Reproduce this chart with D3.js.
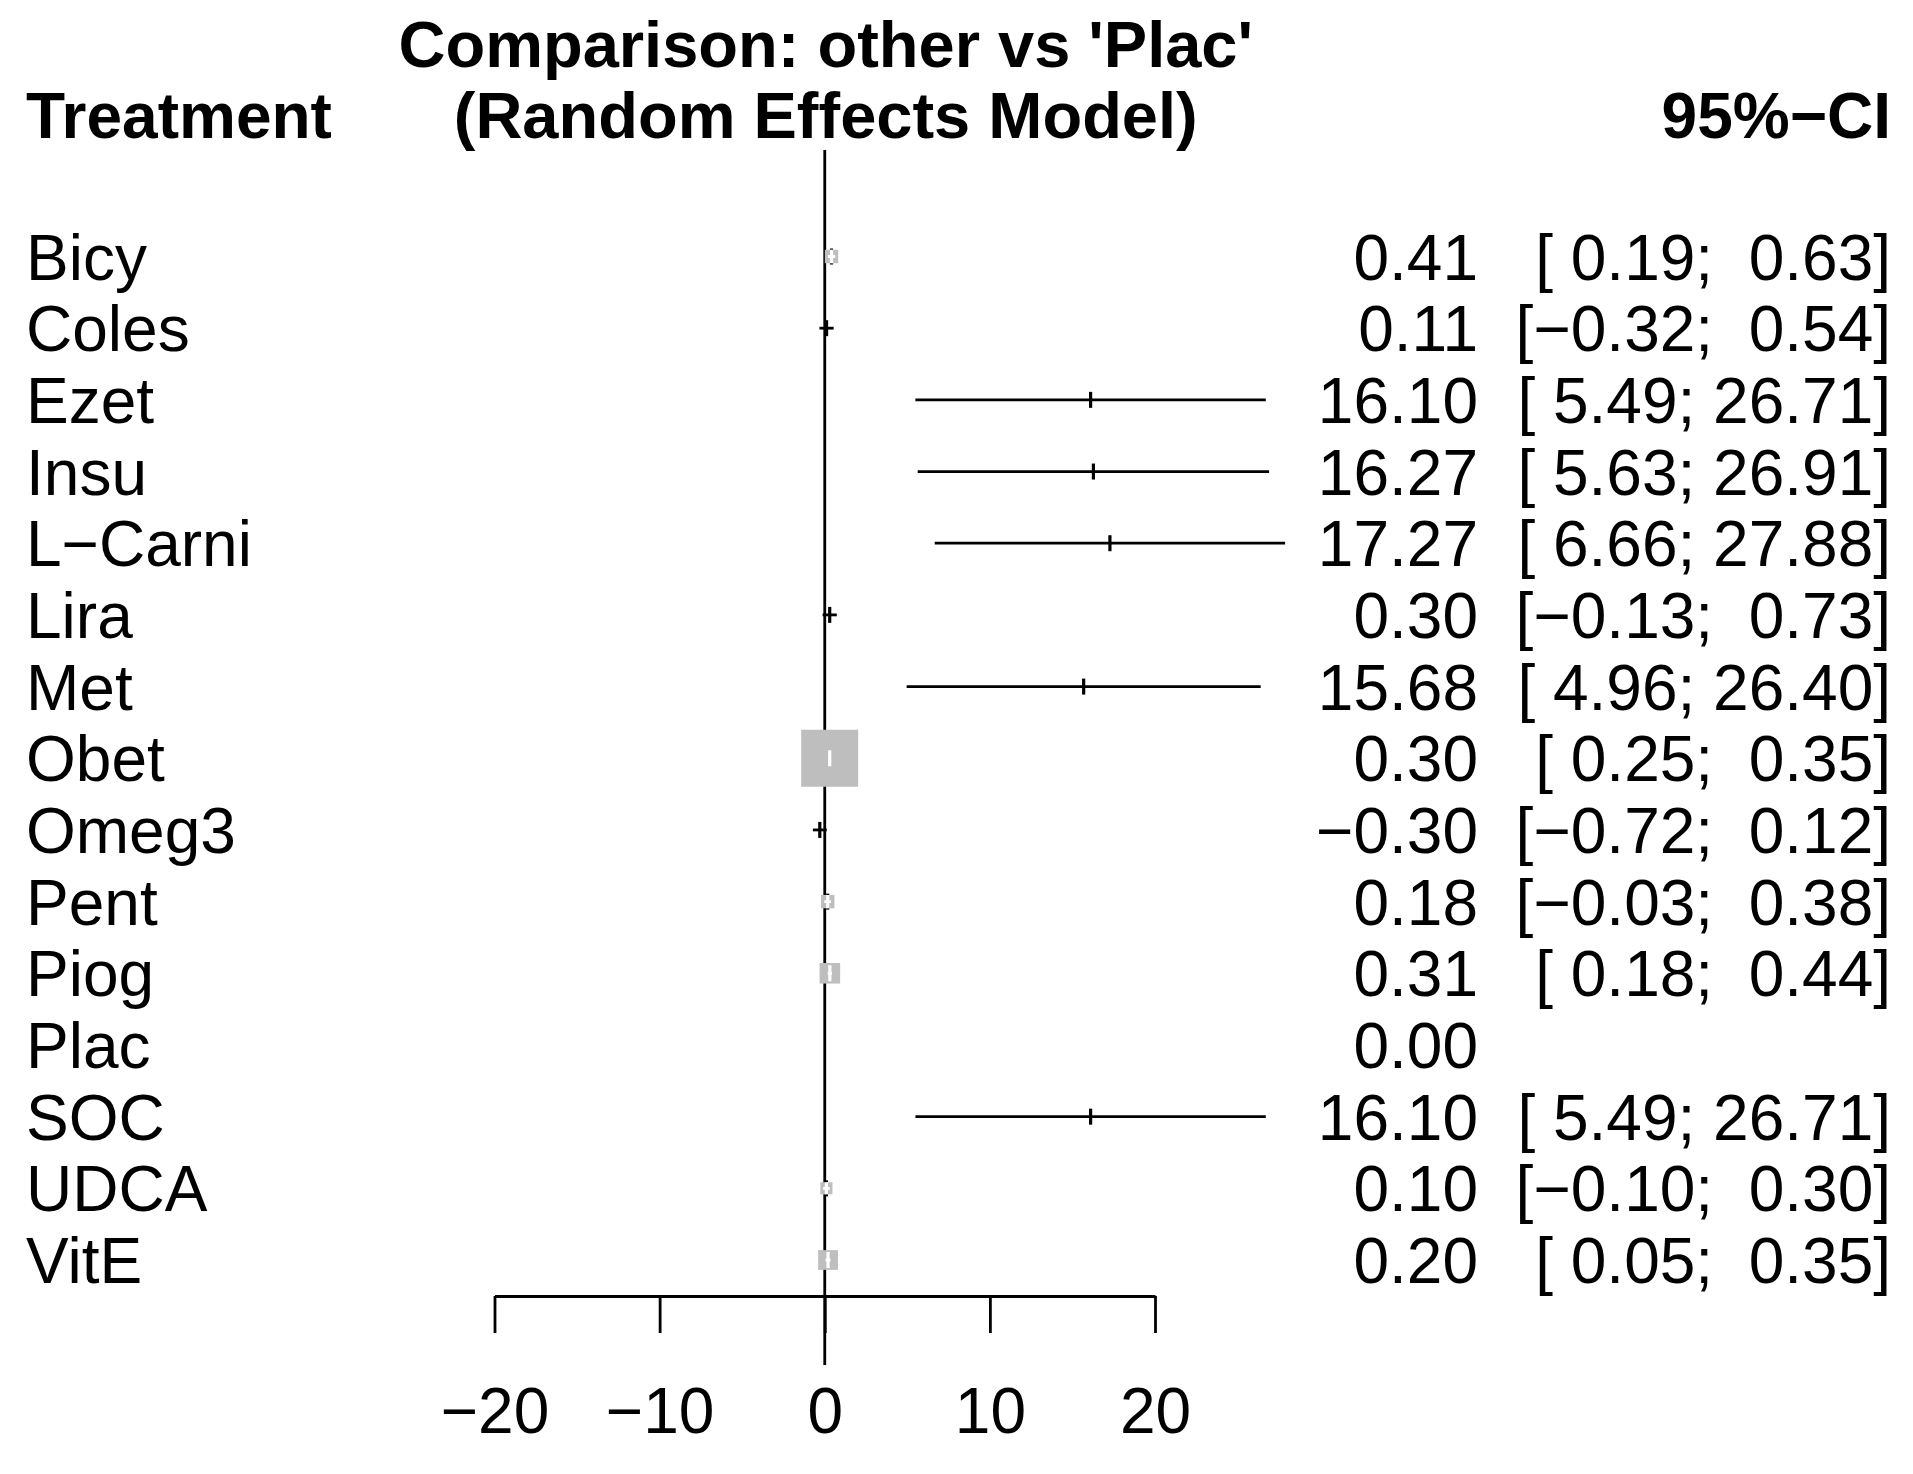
<!DOCTYPE html>
<html>
<head>
<meta charset="utf-8">
<script src="https://cdn.jsdelivr.net/npm/d3@7"></script>
<style>
  body { margin: 0; background: #fff; }
  text { font-family: "Liberation Sans", Arial, Helvetica, sans-serif; fill: #000; }
</style>
</head>
<body>
<svg id="forest"></svg>
<script>
// values
const treatments = ["Bicy", "Coles", "Ezet", "Insu", "L\u2212Carni", "Lira", "Met", "Obet",
                    "Omeg3", "Pent", "Piog", "Plac", "SOC", "UDCA", "VitE"];
const estimates = [0.41, 0.11, 16.10, 16.27, 17.27, 0.30, 15.68, 0.30, -0.30, 0.18, 0.31, 0.00, 16.10, 0.10, 0.20];
const lower     = [0.19, -0.32, 5.49, 5.63, 6.66, -0.13, 4.96, 0.25, -0.72, -0.03, 0.18, null, 5.49, -0.10, 0.05];
const upper     = [0.63, 0.54, 26.71, 26.91, 27.88, 0.73, 26.40, 0.35, 0.12, 0.38, 0.44, null, 26.71, 0.30, 0.35];
// relative weight (square area), estimated
const weights   = [5.5, 1.2, 0.002, 0.002, 0.002, 1.2, 0.002, 100, 1.2, 5.5, 13, 0, 0.002, 4.5, 12];
const xTicks = [-20, -10, 0, 10, 20];

const titleLines = ["Comparison: other vs 'Plac'", "(Random Effects Model)"];

const width = 1913, height = 1474;
const fontSize = 64;

const data = treatments.map((t, i) => ({
  label: t, value: estimates[i], lci: lower[i], uci: upper[i], w: weights[i], i
}));

const svg = d3.select("#forest")
  .attr("width", width)
  .attr("height", height)
  .style("display", "block");

const xScale = d3.scaleLinear().domain([-20, 20]).range([494.5, 1155]);
const yScale = d3.scalePoint()
  .domain(data.map(d => d.label))
  .range([256.5, 1260]);
const sizeScale = d3.scaleSqrt().domain([0, d3.max(weights)]).range([0, 57]);

const fmt = d3.format(".2f");
const minus = s => s.replace("-", "\u2212");
const pad = v => { const s = minus(fmt(v)); return s.length < 5 ? " ".repeat(5 - s.length) + s : s; };

const axisY = 1296;
const tickLen = 37;
const lw = 2.8;

// headings
svg.append("text")
  .attr("x", 26).attr("y", 138)
  .style("font-size", fontSize + "px").style("font-weight", "bold")
  .text("Treatment");

svg.selectAll(".title")
  .data(titleLines)
  .enter()
  .append("text")
  .attr("class", "title")
  .attr("x", xScale(0) + 1)
  .attr("y", (d, i) => 67 + i * 71)
  .attr("text-anchor", "middle")
  .style("font-size", "65px").style("font-weight", "bold")
  .text(d => d);

svg.append("text")
  .attr("x", 1891).attr("y", 138)
  .attr("text-anchor", "end")
  .style("font-size", fontSize + "px").style("font-weight", "bold")
  .text("95%\u2212CI");

// reference line at 0
svg.append("line")
  .attr("x1", xScale(0)).attr("x2", xScale(0))
  .attr("y1", 150).attr("y2", 1365)
  .attr("stroke", "#000")
  .attr("stroke-width", lw);

// x axis
const axis = svg.append("g")
  .attr("transform", `translate(0,${axisY})`)
  .call(d3.axisBottom(xScale).tickValues(xTicks).tickSize(tickLen).tickSizeOuter(0)
    .tickFormat(d => minus(String(d))));
axis.select(".domain").attr("stroke", "#000").attr("stroke-width", lw);
axis.selectAll(".tick line").attr("stroke", "#000").attr("stroke-width", lw);
axis.selectAll(".tick text")
  .attr("y", 137).attr("dy", 0)
  .attr("fill", "#000")
  .style("font-size", fontSize + "px")
  .style("font-family", "'Liberation Sans', Arial, sans-serif");

// row labels
svg.selectAll(".rowlab")
  .data(data)
  .enter()
  .append("text")
  .attr("class", "rowlab")
  .attr("x", 26)
  .attr("y", d => yScale(d.label) + 23)
  .style("font-size", fontSize + "px")
  .text(d => d.label);

// estimates
svg.selectAll(".est")
  .data(data)
  .enter()
  .append("text")
  .attr("class", "est")
  .attr("x", 1478)
  .attr("y", d => yScale(d.label) + 23)
  .attr("text-anchor", "end")
  .style("font-size", fontSize + "px")
  .text(d => minus(fmt(d.value)));

// confidence intervals as text
svg.selectAll(".citext")
  .data(data.filter(d => d.lci !== null))
  .enter()
  .append("text")
  .attr("class", "citext")
  .attr("x", 1891)
  .attr("y", d => yScale(d.label) + 23)
  .attr("text-anchor", "end")
  .attr("xml:space", "preserve")
  .style("white-space", "pre")
  .style("font-size", fontSize + "px")
  .text(d => "[" + pad(d.lci) + "; " + pad(d.uci) + "]");

// marks
const marked = data.filter(d => d.lci !== null);
const tickH = 16;

const defs = svg.append("defs");
const rows = svg.selectAll(".row")
  .data(marked)
  .enter()
  .append("g")
  .attr("class", "row");

const drawCI = (g, colour) => {
  g.append("line")
    .attr("x1", d => xScale(d.lci)).attr("x2", d => xScale(d.uci))
    .attr("y1", d => yScale(d.label)).attr("y2", d => yScale(d.label))
    .attr("stroke", colour).attr("stroke-width", lw);
  g.append("line")
    .attr("x1", d => xScale(d.value)).attr("x2", d => xScale(d.value))
    .attr("y1", d => yScale(d.label) - tickH / 2).attr("y2", d => yScale(d.label) + tickH / 2)
    .attr("stroke", colour).attr("stroke-width", 3.2);
};

// small-weight rows: black cross only
drawCI(rows.filter(d => sizeScale(d.w) < 8), "#000");

// weighted rows: grey square with the interval drawn white inside
const boxed = rows.filter(d => sizeScale(d.w) >= 8);
boxed.each(function (d) {
  const s = sizeScale(d.w);
  defs.append("clipPath").attr("id", "clip" + d.i)
    .append("rect")
    .attr("x", xScale(d.value) - s / 2).attr("y", yScale(d.label) - s / 2)
    .attr("width", s).attr("height", s);
});
drawCI(boxed.append("g").attr("class", "outside"), "#000");
boxed.append("rect")
  .attr("x", d => xScale(d.value) - sizeScale(d.w) / 2)
  .attr("y", d => yScale(d.label) - sizeScale(d.w) / 2)
  .attr("width", d => sizeScale(d.w))
  .attr("height", d => sizeScale(d.w))
  .attr("fill", "#BEBEBE");
drawCI(boxed.append("g").attr("clip-path", d => `url(#clip${d.i})`), "#fff");
</script>
</body>
</html>
